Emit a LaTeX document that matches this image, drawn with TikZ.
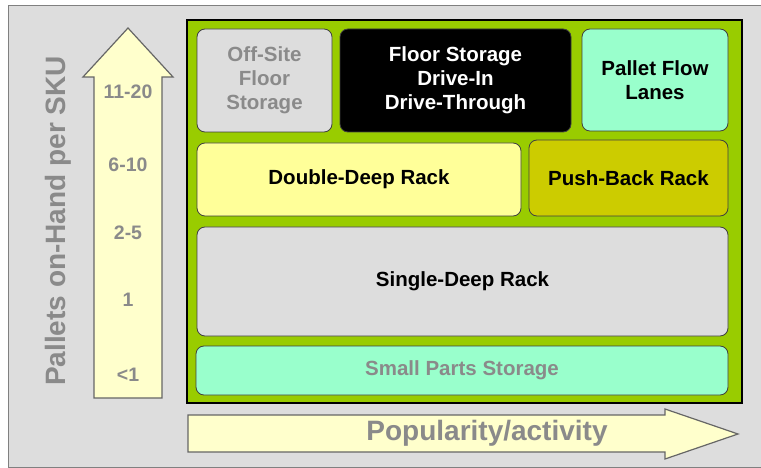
\documentclass[tikz,border=0pt]{standalone}
\usepackage{fontspec}
\setmainfont{Liberation Sans}
\definecolor{bggray}{HTML}{DDDDDD}
\definecolor{framegreen}{HTML}{99CC00}
\definecolor{mint}{HTML}{99FFCC}
\definecolor{lightyellow}{HTML}{FFFF99}
\definecolor{olive}{HTML}{CCCC00}
\definecolor{cream}{HTML}{FFFFCC}
\definecolor{labelgray}{HTML}{8A8A8A}
\definecolor{boxedge}{HTML}{404040}

\begin{document}
\begin{tikzpicture}[x=1pt, y=-1pt,
    zone/.style={draw=boxedge, line width=0.8pt, rounded corners=8pt,
                 align=center, inner sep=0pt,
                 font=\fontsize{20.5}{24}\selectfont\bfseries},
    arrowbody/.style={draw=boxedge!80, line width=1.2pt, fill=cream},
    tick/.style={text=labelgray, font=\fontsize{19.5}{22}\selectfont\bfseries},
    axis/.style={text=labelgray, font=\fontsize{28}{32}\selectfont\bfseries}
]
\useasboundingbox (0,0) rectangle (761,468);

% Hintergrund
\draw[draw=gray, fill=bggray, line width=1pt] (8,6) rectangle (775,467);

% Rahmen
\draw[fill=framegreen, line width=2pt] (187,20) rectangle (742,403);

% Lagerzonen
\node[zone, fill=bggray, text=labelgray, minimum width=135pt, minimum height=103pt]
    (offsite) at (264.5,80.5) {Off-Site\\Floor\\Storage};
\node[zone, fill=black, text=white, minimum width=231pt, minimum height=103pt]
    (floor) at (455.5,80.5) {Floor Storage\\Drive-In\\Drive-Through};
\node[zone, fill=mint, minimum width=146pt, minimum height=102pt]
    (flow) at (655,80) {Pallet Flow\\Lanes};
\node[zone, fill=lightyellow, minimum width=324pt, minimum height=73pt]
    (double) at (359,179.5) {Double-Deep Rack};
\node[zone, fill=olive, minimum width=199pt, minimum height=76pt]
    (pushback) at (628.5,178) {Push-Back Rack};
\node[zone, fill=bggray, minimum width=531pt, minimum height=109pt]
    (single) at (462.5,281.5) {Single-Deep Rack};
\node[zone, fill=mint, text=labelgray, minimum width=532pt, minimum height=49pt]
    (smallparts) at (462,370.5) {Small Parts Storage};

% Pfeil nach oben
\draw[arrowbody] (94,398) -- (94,77) -- (83,77) -- (128,28) -- (173,77)
    -- (162,77) -- (162,398) -- cycle;
\node[tick] (p1) at (128,92)  {11-20};
\node[tick] (p2) at (128,165) {6-10};
\node[tick] (p3) at (128,233) {2-5};
\node[tick] (p4) at (128,300) {1};
\node[tick] (p5) at (128,375) {<1};
\node[axis, rotate=90] (pallets) at (58,221) {Pallets on-Hand per SKU};

% Pfeil nach rechts
\draw[arrowbody] (188,415) -- (665,415) -- (665,409) -- (738,434)
    -- (665,459) -- (665,452) -- (188,452) -- cycle;
\node[axis] (popularity) at (487,433) {Popularity/activity};

\end{tikzpicture}
\end{document}
